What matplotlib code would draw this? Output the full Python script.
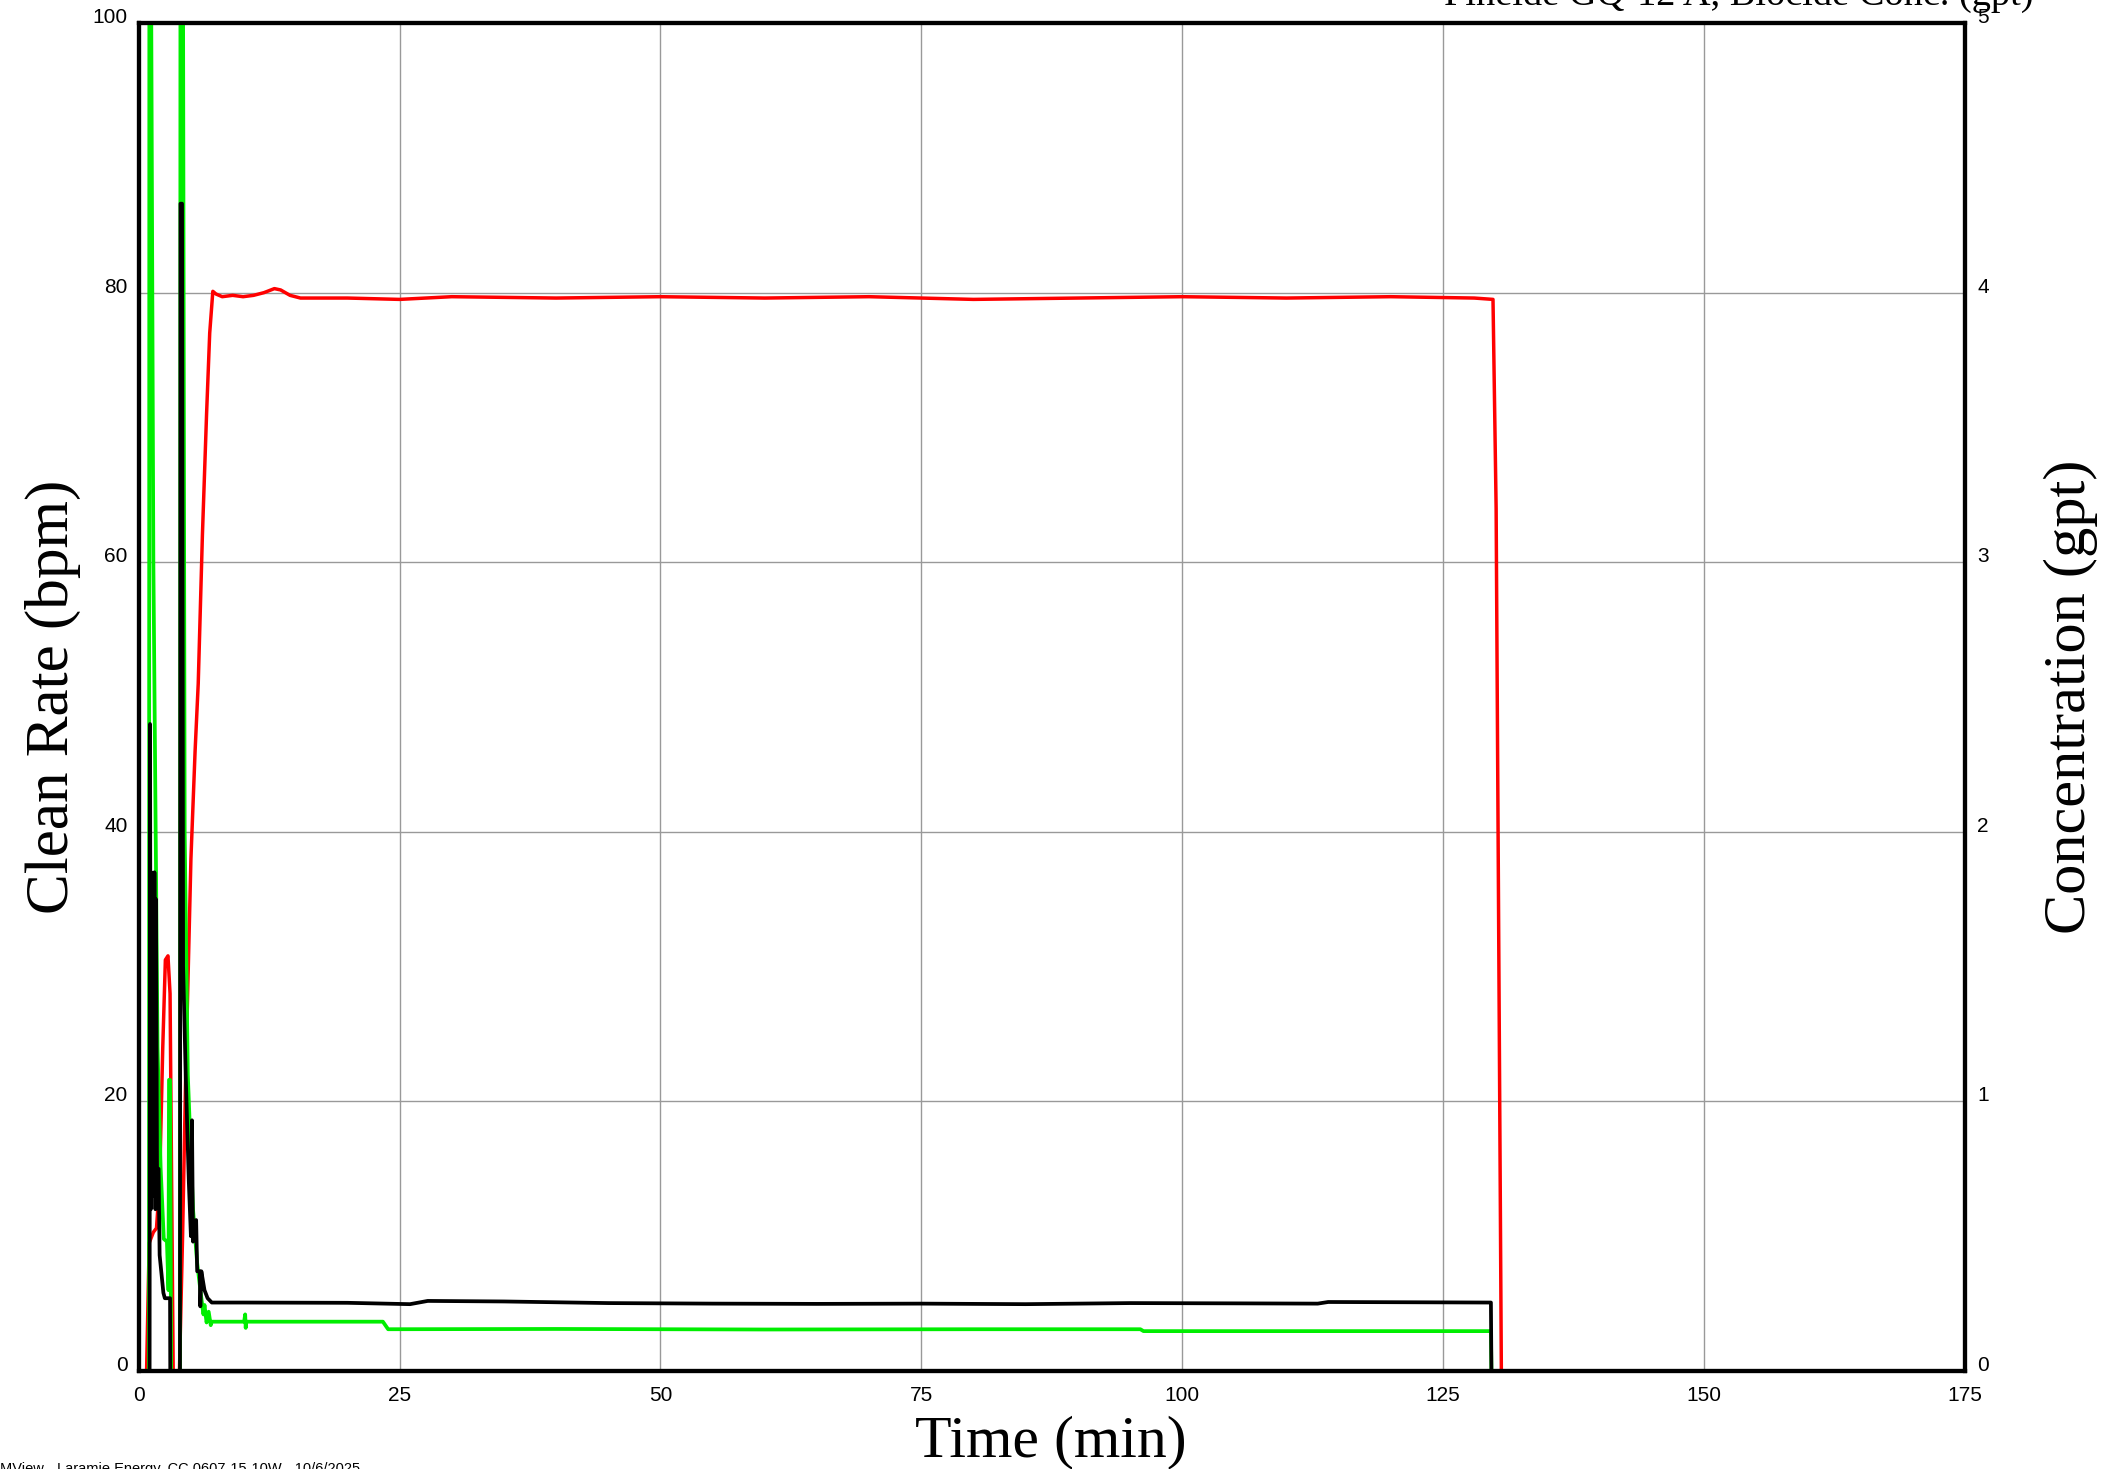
import matplotlib
matplotlib.use("Agg")
import matplotlib.pyplot as plt

# clean rate (bpm), left axis
rate_time = [0, 0.75, 1.0, 1.4, 1.7, 2.0, 2.3, 2.55, 2.8, 3.0, 3.3, 3.9, 4.2, 4.5, 5.0, 5.4, 5.7,
             6.1, 6.5, 6.8, 7.1, 7.4, 8, 9, 10, 11, 12, 13, 13.6, 14.5, 15.5, 20, 25, 30, 40, 50,
             60, 70, 80, 90, 100, 110, 120, 128, 129.8, 130.1, 130.6]
rate_bpm = [0, 0, 9.5, 10.3, 10.6, 14, 24, 30.5, 30.8, 28, 0, 0, 10, 22, 38, 46, 51,
            62, 71, 77, 80.1, 79.9, 79.7, 79.8, 79.7, 79.8, 80.0, 80.3, 80.2, 79.8, 79.6, 79.6, 79.5, 79.7, 79.6, 79.7,
            79.6, 79.7, 79.5, 79.6, 79.7, 79.6, 79.7, 79.6, 79.5, 64, 0]

# black conc (gpt), right axis
black_time = [0, 1.04, 1.08, 1.15, 1.2, 1.3, 1.35, 1.45, 1.5, 1.6, 1.65, 1.75, 1.9, 2.0, 2.36, 2.5,
              3.0, 3.02, 3.95, 4.0, 4.15, 4.25, 4.5, 4.8, 5.0, 5.1, 5.2, 5.5, 5.6, 5.85, 5.9, 6.0,
              6.3, 6.6, 7.0, 10, 20, 26, 27.7, 35, 45, 55, 65, 75, 85, 95, 105, 113, 114, 122, 129.6, 129.65]
black_gpt = [0, 0, 2.4, 0.6, 1.85, 0.7, 1.83, 0.65, 1.85, 0.6, 1.75, 0.75, 0.75, 0.43, 0.29, 0.27,
             0.27, 0, 0, 4.33, 4.33, 1.5, 1.1, 0.7, 0.5, 0.93, 0.48, 0.56, 0.37, 0.37, 0.24, 0.37,
             0.3, 0.27, 0.254, 0.254, 0.253, 0.248, 0.26, 0.258, 0.252, 0.25, 0.249, 0.25, 0.248, 0.252, 0.251, 0.25, 0.256, 0.255, 0.254, 0]

# green conc (gpt), right axis
green_time = [0, 0.98, 1.02, 1.1, 1.4, 1.8, 2.1, 2.4, 2.7, 2.85, 2.9, 3.0, 3.1, 3.95, 4.0, 4.2,
              4.4, 4.7, 5.2, 5.6, 6.0, 6.2, 6.3, 6.5, 6.7, 6.9, 7.0, 10.1, 10.2, 10.25, 10.3,
              23.4, 23.9, 40, 60, 80, 96, 96.3, 110, 129.6, 129.65]
green_gpt = [0, 0, 6, 6, 3.0, 1.2, 0.75, 0.49, 0.48, 0.3, 1.08, 1.08, 0, 0, 6, 6,
             2.0, 1.1, 0.6, 0.4, 0.27, 0.21, 0.245, 0.18, 0.22, 0.17, 0.183, 0.183, 0.21, 0.16, 0.183,
             0.183, 0.155, 0.156, 0.154, 0.155, 0.155, 0.148, 0.148, 0.148, 0]

x_ticks = [0, 25, 50, 75, 100, 125, 150, 175]
rate_ticks = [0, 20, 40, 60, 80, 100]
conc_ticks = [0, 1, 2, 3, 4, 5]

fig = plt.figure(figsize=(21.12, 14.69), dpi=100)
ax = fig.add_axes([0.0657, 0.0667, 0.8645, 0.9176])
ax2 = ax.twinx()

ax.plot(rate_time, rate_bpm, color="#ff0000", lw=2.5, solid_joinstyle="round")
ax2.plot(green_time, green_gpt, color="#00ee00", lw=2.7, solid_joinstyle="round")
ax2.plot(black_time, black_gpt, color="black", lw=2.7, solid_joinstyle="round")

ax.set_xlim(0, 175)
ax.set_ylim(0, 100)
ax2.set_ylim(0, 5)
ax.set_xticks(x_ticks)
ax.set_yticks(rate_ticks)
ax2.set_yticks(conc_ticks)
ax.grid(True, color="#999999", lw=1)

tick_font = {"family": "Liberation Sans", "size": 15}
ax.set_xticklabels([str(t) for t in x_ticks], fontdict=tick_font)
ax.set_yticklabels([str(t) for t in rate_ticks], fontdict=tick_font, va="baseline")
ax2.set_yticklabels([str(t) for t in conc_ticks], fontdict=tick_font, va="baseline")
ax.tick_params(axis="x", length=0, pad=11)
ax.tick_params(axis="y", length=0, pad=8)
ax2.tick_params(axis="y", length=0, pad=9)

for a in (ax, ax2):
    for s in a.spines.values():
        s.set_linewidth(3)

ax.set_xlabel("Time (min)", family="Liberation Serif", size=43)
ax.xaxis.set_label_coords(0.4995, -0.053)
ax.xaxis.label.set_va("center")
ax.set_ylabel("Clean Rate (bpm)", family="Liberation Serif", size=44)
ax.yaxis.set_label_coords(-0.047, 0.5)
ax.yaxis.label.set_va("center")
ax2.set_ylabel("Concentration (gpt)", family="Liberation Serif", size=43.5, rotation=90)
ax2.yaxis.set_label_coords(1.058, 0.5)
ax2.yaxis.label.set_va("center")

fig.text(0.963, 0.9965, "Pinelde GQ-12 A, Biocide Conc. (gpt)", family="Liberation Serif",
         fontsize=27.6, ha="right", va="baseline")
fig.text(0.0, -0.0027, "MView - Laramie Energy, CC 0607-15-10W - 10/6/2025",
         family="Liberation Sans", fontsize=10.5, ha="left", va="baseline")

fig.savefig("out.png", dpi=100)
